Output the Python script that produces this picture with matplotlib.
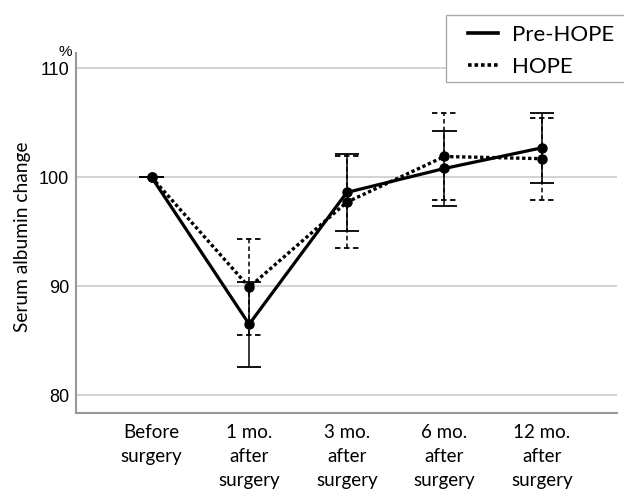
import matplotlib
matplotlib.use("Agg")
import matplotlib.pyplot as plt
from matplotlib.lines import Line2D
from matplotlib.patches import Rectangle
import numpy as np

categories = ["Before\nsurgery", "1 mo.\nafter\nsurgery", "3 mo.\nafter\nsurgery",
              "6 mo.\nafter\nsurgery", "12 mo.\nafter\nsurgery"]
pre_hope = [100.0, 86.5, 98.6, 100.8, 102.7]
pre_hope_err = [0.0, 3.9, 3.55, 3.45, 3.2]
hope = [100.0, 89.9, 97.7, 101.9, 101.7]
hope_err = [0.0, 4.4, 4.2, 4.0, 3.75]
yticks = [80, 90, 100, 110]
series_names = ["Pre-HOPE", "HOPE"]

calfont = ["Lato", "DejaVu Sans"]
numfont = ["Liberation Sans", "DejaVu Sans"]

W, H = 624, 491
fig = plt.figure(figsize=(W / 100, H / 100), dpi=100)
ax = fig.add_axes([0.1218, 0.1589, 0.989 - 0.1218, 0.892 - 0.1589])

x = np.arange(len(categories))
cap = 0.125

# error bars
ax.vlines(x, np.array(pre_hope) - np.array(pre_hope_err), np.array(pre_hope) + np.array(pre_hope_err),
          colors="black", linewidth=1.1, zorder=3)
for sgn in (-1, 1):
    ax.hlines(np.array(pre_hope) + sgn * np.array(pre_hope_err), x - cap, x + cap,
              colors="black", linewidth=1.3, zorder=3)
ax.vlines(x, np.array(hope) - np.array(hope_err), np.array(hope) + np.array(hope_err),
          colors="black", linewidth=1.1, linestyles=[(0, (3, 2))], zorder=3)
for sgn in (-1, 1):
    ax.hlines(np.array(hope) + sgn * np.array(hope_err), x - cap, x + cap,
              colors="black", linewidth=1.3, linestyles=[(0, (3, 2))], zorder=3)

# lines
ax.plot(x, pre_hope, color="black", linewidth=2.3, marker="o", markersize=6.5, zorder=5)
ax.plot(x, hope, color="black", linewidth=2.4, linestyle=(0, (1, 0.8)), marker="o",
        markersize=6.5, zorder=4)

ax.set_xlim(-0.774, 4.77)
ax.set_ylim(78.35, 111.4)
ax.set_yticks(yticks)
ax.set_yticklabels([str(v) for v in yticks], fontfamily=numfont, fontsize=13)
ax.set_xticks(x)
ax.set_xticklabels(categories, fontfamily=calfont, fontsize=13.5, linespacing=1.5)
ax.tick_params(axis="both", length=0)
ax.tick_params(axis="y", pad=5)
ax.tick_params(axis="x", pad=8)

ax.grid(axis="y", color="#c8c8c8", linewidth=1.1)
ax.set_axisbelow(True)
for s in ("top", "right"):
    ax.spines[s].set_visible(False)
for s in ("left", "bottom"):
    ax.spines[s].set_color("#999999")
    ax.spines[s].set_linewidth(1.5)

fig.text(23 / W, 1 - 237 / H, "Serum albumin change", fontfamily=calfont, fontsize=13.8,
         rotation=90, ha="center", va="center")
fig.text(65 / W, 1 - 52 / H, "%", fontfamily=numfont, fontsize=11, ha="center", va="center")

# legend frame
fig.patches.append(Rectangle((446 / W, 1 - 82 / H), 200 / W, 67 / H, transform=fig.transFigure,
                             facecolor="white", edgecolor="#aaaaaa", linewidth=1.0, zorder=10))
handles = [Line2D([], [], color="black", linewidth=2.6),
           Line2D([], [], color="black", linewidth=2.6, linestyle=(0, (1, 0.8)))]
leg = fig.legend(handles, series_names, loc="upper left", bbox_to_anchor=(468 / W, 1 - 25 / H),
                 prop={"family": calfont, "size": 16}, frameon=False,
                 handlelength=1.35, borderpad=0, labelspacing=0.55, handletextpad=0.63,
                 borderaxespad=0)
leg.set_zorder(11)

fig.savefig("out.png", dpi=100)
